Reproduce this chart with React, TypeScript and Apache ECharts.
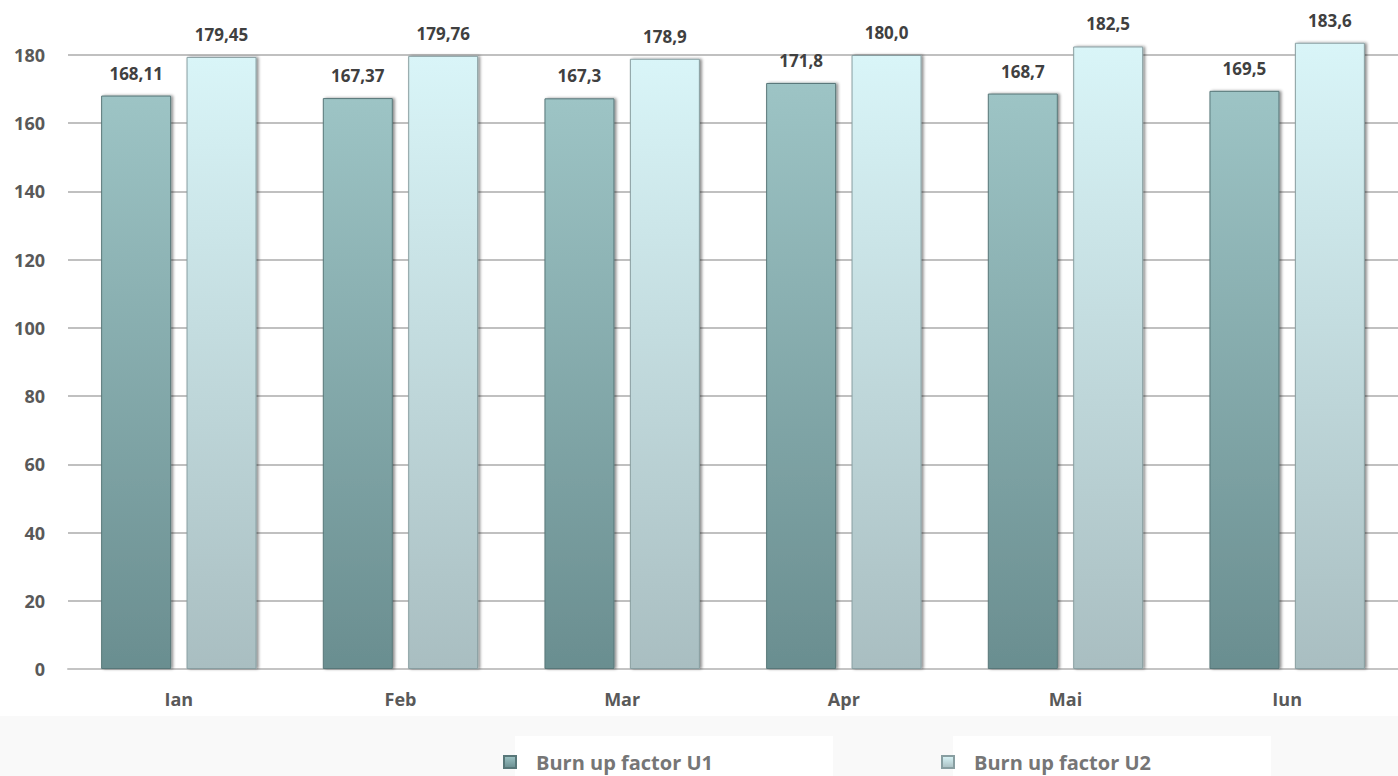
import React, { useEffect, useRef } from "react";
import * as echarts from "echarts";

const categories = ["Ian", "Feb", "Mar", "Apr", "Mai", "Iun"];
const u1Values = [168.11, 167.37, 167.3, 171.8, 168.7, 169.5];
const u2Values = [179.45, 179.76, 178.9, 180.0, 182.5, 183.6];
const u1Labels = ["168,11", "167,37", "167,3", "171,8", "168,7", "169,5"];
const u2Labels = ["179,45", "179,76", "178,9", "180,0", "182,5", "183,6"];
const seriesNames = ["Burn up factor U1", "Burn up factor U2"];

const FONT = "'Open Sans', 'Noto Sans', sans-serif";

export default function App() {
  const ref = useRef<HTMLDivElement>(null);
  useEffect(() => {
    if (!ref.current) return;
    const chart = echarts.init(ref.current, null, { renderer: "svg" });
    const g1 = new echarts.graphic.LinearGradient(0, 0, 0, 1, [
      { offset: 0, color: "#9dc4c5" },
      { offset: 1, color: "#6a8e90" },
    ]);
    const g2 = new echarts.graphic.LinearGradient(0, 0, 0, 1, [
      { offset: 0, color: "#d9f5f8" },
      { offset: 1, color: "#a9bec1" },
    ]);
    const labelCommon = {
      show: true,
      position: "top" as const,
      distance: 14,
      color: "#404040",
      fontFamily: FONT,
      fontWeight: "bold" as const,
      fontSize: 17,
    };
    const legendText = {
      color: "#767676",
      fontFamily: FONT,
      fontWeight: "bold" as const,
      fontSize: 20,
      padding: [0, 0, 0, 15],
    };
    chart.setOption({
      animation: false,
      backgroundColor: "#ffffff",
      graphic: [
        { type: "rect", shape: { x: 0, y: 716, width: 1398, height: 60 }, style: { fill: "#f9f9f9" }, z: -10 },
        { type: "rect", shape: { x: 515, y: 736, width: 318, height: 40 }, style: { fill: "#ffffff" }, z: -9 },
        { type: "rect", shape: { x: 953, y: 736, width: 318, height: 40 }, style: { fill: "#ffffff" }, z: -9 },
      ],
      grid: { left: 68, top: 55, bottom: 107, width: 1341, containLabel: false },
      xAxis: {
        type: "category",
        data: categories,
        axisLine: { show: true, lineStyle: { color: "#c4c4c4", width: 2 } },
        axisTick: { show: false },
        axisLabel: {
          color: "#595959",
          fontFamily: FONT,
          fontWeight: "bold",
          fontSize: 18,
          margin: 21,
        },
      },
      yAxis: {
        type: "value",
        min: 0,
        max: 180,
        interval: 20,
        axisLine: { show: false },
        axisTick: { show: false },
        splitLine: { lineStyle: { color: "#ababab", width: 1.5 } },
        axisLabel: {
          color: "#595959",
          fontFamily: FONT,
          fontWeight: "bold",
          fontSize: 18,
          margin: 23,
        },
      },
      legend: [
        {
          data: [seriesNames[0]],
          left: 503,
          top: 752,
          padding: 0,
          itemWidth: 12,
          itemHeight: 12,
          icon: "rect",
          textStyle: legendText,
        },
        {
          data: [seriesNames[1]],
          left: 941,
          top: 752,
          padding: 0,
          itemWidth: 12,
          itemHeight: 12,
          icon: "rect",
          textStyle: legendText,
        },
      ],
      series: [
        {
          name: seriesNames[0],
          type: "bar",
          data: u1Values,
          barWidth: 70,
          barGap: "22%",
          clip: false,
          itemStyle: {
            color: g1,
            borderColor: "#587779",
            borderWidth: 1,
            shadowColor: "rgba(0,0,0,0.45)",
            shadowBlur: 3,
            shadowOffsetX: 2,
            shadowOffsetY: 0,
          },
          label: { ...labelCommon, formatter: (p: any) => u1Labels[p.dataIndex] },
        },
        {
          name: seriesNames[1],
          type: "bar",
          data: u2Values,
          barWidth: 70,
          clip: false,
          itemStyle: {
            color: g2,
            borderColor: "#889ea1",
            borderWidth: 1,
            shadowColor: "rgba(0,0,0,0.45)",
            shadowBlur: 3,
            shadowOffsetX: 2,
            shadowOffsetY: 0,
          },
          label: { ...labelCommon, formatter: (p: any) => u2Labels[p.dataIndex] },
        },
      ],
    });
    return () => chart.dispose();
  }, []);
  return (
    <div
      ref={ref}
      style={{ position: "fixed", left: 0, top: 0, width: 1398, height: 776 }}
    />
  );
}
